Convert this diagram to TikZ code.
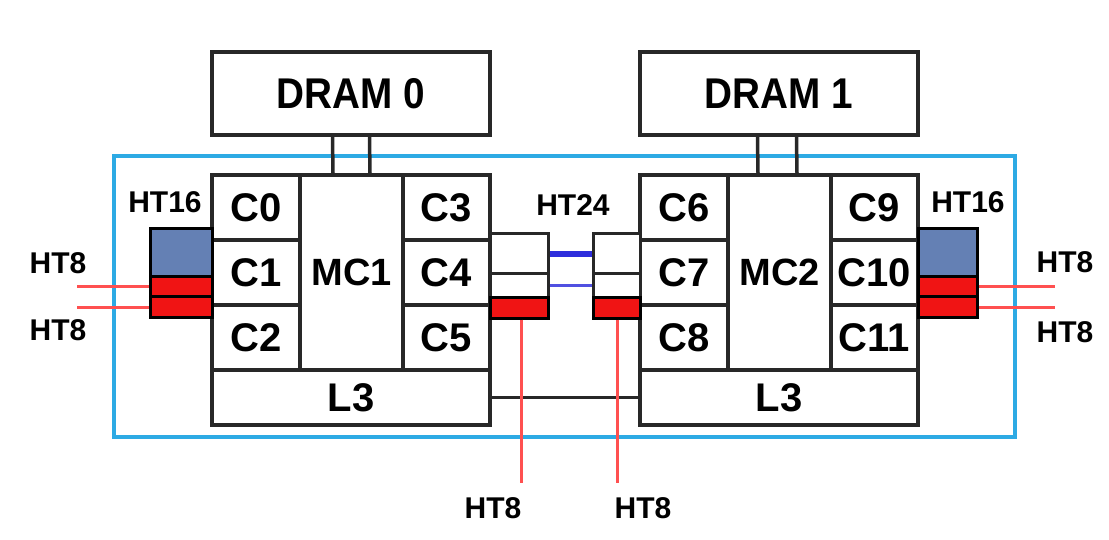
\documentclass[tikz,border=0pt]{standalone}
\usepackage{fontspec}
\setmainfont{Liberation Sans}
\newfontfamily\dramfont[FakeStretch=0.9]{Liberation Sans}
\definecolor{frameblue}{RGB}{45,170,228}
\definecolor{linegray}{RGB}{40,40,40}
\definecolor{steel}{RGB}{100,128,180}
\definecolor{htred}{RGB}{240,20,20}
\definecolor{wirered}{RGB}{255,80,80}
\definecolor{linkblue}{RGB}{45,45,220}
\definecolor{linkblue2}{RGB}{80,80,225}
\tikzset{
  box/.style={draw=linegray, line width=3.5pt, fill=white, rectangle, inner sep=0pt, anchor=center},
  corelbl/.style={box, minimum width=88pt, minimum height=65pt, font=\fontsize{40}{40}\selectfont\bfseries},
  mclbl/.style={box, minimum width=103pt, minimum height=195pt, font=\fontsize{38}{38}\selectfont\bfseries},
  l3lbl/.style={box, minimum width=278pt, minimum height=55pt, font=\fontsize{40}{40}\selectfont\bfseries},
  dramlbl/.style={box, minimum width=278pt, minimum height=83pt, font=\dramfont\fontsize{43}{43}\selectfont\bfseries},
  htlbl/.style={inner sep=0pt, font=\fontsize{30}{30}\selectfont\bfseries, text=black},
  blueblk/.style={draw=black, line width=3pt, fill=steel, inner sep=0pt, minimum height=48pt},
  redblk/.style={draw=black, line width=3pt, fill=htred, inner sep=0pt, minimum height=20pt},
  whiteblk/.style={draw=linegray, line width=3pt, fill=white, inner sep=0pt},
  wire/.style={draw=wirered, line width=3pt},
  dramlink/.style={draw=linegray, line width=3.5pt},
}
\begin{document}
\begin{tikzpicture}[x=1pt,y=-1pt]
\useasboundingbox (0,0) rectangle (1109,540);
\fill[white] (0,0) rectangle (1109,540);
% processor frame
\node[draw=frameblue, line width=4pt, rectangle, inner sep=0pt,
      minimum width=901pt, minimum height=281pt] (frame) at (564.5,296.5) {};
% DRAM boxes
\node[dramlbl] (dram0) at (351,93.5) {DRAM 0};
\node[dramlbl] (dram1) at (779,93.5) {DRAM 1};
% chip 1
\node[corelbl] (c0) at (256,207.5) {C0};
\node[corelbl] (c1) at (256,272.5) {C1};
\node[corelbl] (c2) at (256,337.5) {C2};
\node[mclbl] (mc1) at (351.5,272.5) {MC1};
\node[corelbl, minimum width=87pt] (c3) at (446.5,207.5) {C3};
\node[corelbl, minimum width=87pt] (c4) at (446.5,272.5) {C4};
\node[corelbl, minimum width=87pt] (c5) at (446.5,337.5) {C5};
\node[l3lbl] (l3a) at (351,397.5) {L3};
% chip 2
\node[corelbl] (c6) at (684,207.5) {C6};
\node[corelbl] (c7) at (684,272.5) {C7};
\node[corelbl] (c8) at (684,337.5) {C8};
\node[mclbl] (mc2) at (779.5,272.5) {MC2};
\node[corelbl, minimum width=87pt] (c9) at (874.5,207.5) {C9};
\node[corelbl, minimum width=87pt] (c10) at (874.5,272.5) {C10};
\node[corelbl, minimum width=87pt] (c11) at (874.5,337.5) {C11};
\node[l3lbl] (l3b) at (779,397.5) {L3};
% DRAM links
\draw[dramlink] ([xshift=-18.5pt]dram0.south) -- ([xshift=-18.5pt]mc1.north);
\draw[dramlink] ([xshift=18.5pt]dram0.south) -- ([xshift=18.5pt]mc1.north);
\draw[dramlink] ([xshift=-21.5pt]dram1.south) -- ([xshift=-21.5pt]mc2.north);
\draw[dramlink] ([xshift=17.5pt]dram1.south) -- ([xshift=17.5pt]mc2.north);
% L3 link
\draw[dramlink] (l3a.east) -- (l3b.west);
% HT16 left
\node[blueblk, minimum width=62pt] (hl) at (181,253) {};
\node[redblk, minimum width=62pt] (hlr1) at (181,287) {};
\node[redblk, minimum width=62pt] (hlr2) at (181,307) {};
% HT16 right
\node[blueblk, minimum width=59pt] (hr) at (947.5,253) {};
\node[redblk, minimum width=59pt] (hrr1) at (947.5,287) {};
\node[redblk, minimum width=59pt] (hrr2) at (947.5,307) {};
% HT24 left block
\node[whiteblk, minimum width=58pt, minimum height=40pt] (ma1) at (519,254) {};
\node[whiteblk, minimum width=58pt, minimum height=24pt] (ma2) at (519,286) {};
\node[redblk, minimum width=58pt] (mar) at (519,308) {};
% HT24 right block
\node[whiteblk, minimum width=47pt, minimum height=40pt] (mb1) at (616.5,254) {};
\node[whiteblk, minimum width=47pt, minimum height=24pt] (mb2) at (616.5,286) {};
\node[redblk, minimum width=47pt] (mbr) at (616.5,308) {};
% HT24 links
\draw[draw=linkblue, line width=5.5pt] (ma1.east) -- (mb1.west);
\draw[draw=linkblue2, line width=3pt] (ma2.east) -- (mb2.west);
% HT8 wires
\coordinate (wl1) at (77,287);
\coordinate (wl2) at (77,307);
\coordinate (wr1) at (1055,287);
\coordinate (wr2) at (1055,307);
\coordinate (wb1) at (521,483);
\coordinate (wb2) at (617,483);
\draw[wire] (hlr1.west) -- (wl1);
\draw[wire] (hlr2.west) -- (wl2);
\draw[wire] (hrr1.east) -- (wr1);
\draw[wire] (hrr2.east) -- (wr2);
\draw[wire] ([xshift=2pt]mar.south) -- (wb1);
\draw[wire] ([xshift=0.5pt]mbr.south) -- (wb2);
% labels
\node[htlbl] (t16l) at (165,202) {HT16};
\node[htlbl] (t16r) at (968,202) {HT16};
\node[htlbl] (t24) at (573,205) {HT24};
\node[htlbl] (t8l1) at (58,263) {HT8};
\node[htlbl] (t8l2) at (58,330) {HT8};
\node[htlbl] (t8r1) at (1065,262) {HT8};
\node[htlbl] (t8r2) at (1065,332) {HT8};
\node[htlbl] (t8b1) at (493,508) {HT8};
\node[htlbl] (t8b2) at (643,508) {HT8};
\end{tikzpicture}
\end{document}
